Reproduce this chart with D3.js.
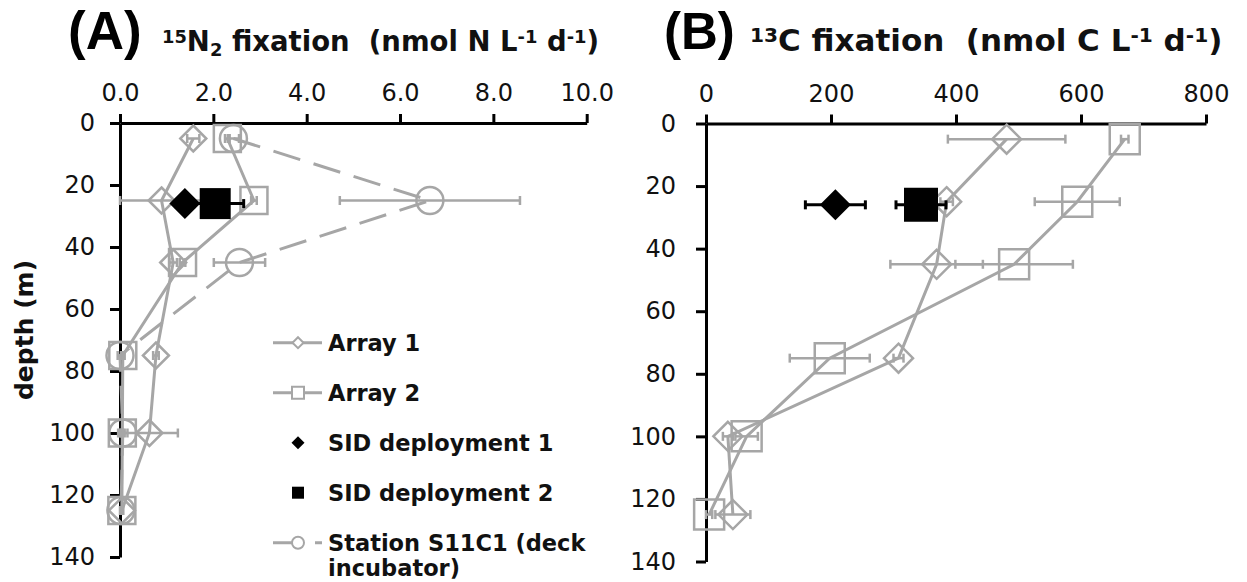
<!DOCTYPE html>
<html><head><meta charset="utf-8">
<script src="https://cdn.jsdelivr.net/npm/d3@7"></script>
<style>body{margin:0;background:#fff} svg{display:block}</style></head>
<body>
<svg id="c" width="1247" height="582"></svg>
<script>
// ---- data ----
const depths = [5, 25, 45, 75, 100, 125];
const sidDepth = [26];
const depthTicks = [0, 20, 40, 60, 80, 100, 120, 140];
const ticksA = [0, 2, 4, 6, 8, 10];
const ticksB = [0, 200, 400, 600, 800];

// Panel A: 15N2 fixation (nmol N L-1 d-1)
const a1N    = [1.57, 0.89, 1.14, 0.77, 0.63, 0.04];
const a1Nerr = [0.13, 0.89, 0.08, 0.06, 0.61, 0.03];
const a2N    = [2.30, 2.87, 1.34, 0.06, 0.05, 0.04];
const a2Nerr = [0.05, 0.06, 0.06, 0.04, 0.05, 0.02];
const stN    = [2.43, 6.64, 2.56, 0.00, 0.06, 0.02];
const stNerr = [0.12, 1.93, 0.55, 0.05, 0.10, 0.02];
const sid1N = [1.39], sid1Nerr = [0.20];
const sid2N = [2.04], sid2Nerr = [0.61];

// Panel B: 13C fixation (nmol C L-1 d-1)
const a1C    = [481, 385, 369, 308, 35, 43];
const a1Cerr = [94, 10, 74, 8, 8, 28];
const a2C    = [670, 594, 493, 198, 65, 5];
const a2Cerr = [6, 68, 94, 64, 18, 5];
const sid1C = [207], sid1Cerr = [48];
const sid2C = [344], sid2Cerr = [40];

const legendLabels = ["Array 1", "Array 2", "SID deployment 1", "SID deployment 2", "Station S11C1 (deck", "incubator)"];

// ---- drawing ----
const GRAY = "#a6a6a6";
const svg = d3.select("#c");

function markerPath(type, cx, cy, s) {
  const p = d3.path();
  if (type === "diamond") {
    p.moveTo(cx, cy - s); p.lineTo(cx + s, cy); p.lineTo(cx, cy + s); p.lineTo(cx - s, cy); p.closePath();
  } else if (type === "square") {
    p.rect(cx - s, cy - s, 2 * s, 2 * s);
  } else {
    p.moveTo(cx + s, cy); p.arc(cx, cy, s, 0, 2 * Math.PI);
  }
  return p.toString();
}

function drawSeries(g, x, y, vals, errs, dep, opt) {
  const pts = vals.map((v, i) => ({v, e: errs[i], d: dep[i]}));
  if (opt.line) {
    g.append("path").datum(pts)
      .attr("d", d3.line().x(p => x(p.v)).y(p => y(p.d)))
      .attr("fill", "none").attr("stroke", GRAY).attr("stroke-width", 3)
      .attr("stroke-dasharray", opt.dash || null);
  }
  const eb = g.append("g").attr("stroke", opt.ecol).attr("stroke-width", opt.ew);
  pts.forEach(p => {
    const y0 = y(p.d);
    eb.append("line").attr("x1", x(p.v - p.e)).attr("x2", x(p.v + p.e)).attr("y1", y0).attr("y2", y0);
    [p.v - p.e, p.v + p.e].forEach(xx => {
      eb.append("line").attr("x1", x(xx)).attr("x2", x(xx)).attr("y1", y0 - 4.5).attr("y2", y0 + 4.5);
    });
  });
  g.append("g").selectAll("path").data(pts).join("path")
    .attr("d", p => markerPath(opt.shape, x(p.v), y(p.d), opt.size))
    .attr("fill", opt.fill).attr("stroke", opt.stroke).attr("stroke-width", opt.sw);
}

function axes(g, x, y, xt, fmt, ypad) {
  const ax = g.append("g").attr("transform", `translate(0,${y(0)})`)
    .call(d3.axisTop(x).tickValues(xt).tickFormat(fmt).tickSize(9).tickSizeOuter(0).tickPadding(13));
  const ay = g.append("g").attr("transform", `translate(${x(0)},0)`)
    .call(d3.axisLeft(y).tickValues(depthTicks).tickFormat(d3.format("d")).tickSize(10).tickSizeOuter(0).tickPadding(ypad));
  [ax, ay].forEach(a => {
    a.selectAll("path, line").attr("stroke", "#000").attr("stroke-width", 3);
    a.selectAll("text").attr("font-family", "DejaVu Sans, Verdana, sans-serif").attr("font-size", 24).attr("fill", "#111");
  });
}

function title(letter, x0, lsize, parts, xt, fs) {
  svg.append("text").attr("x", x0).attr("y", 49)
    .attr("font-family", "Liberation Sans, Arial, sans-serif").attr("font-weight", "bold").attr("font-size", lsize)
    .text(letter);
  const t = svg.append("text").attr("x", xt).attr("y", 51)
    .attr("font-family", "DejaVu Sans, Verdana, sans-serif").attr("font-weight", "bold").attr("font-size", fs)
    .attr("fill", "#111");
  parts.forEach(([s, kind]) => {
    const ts = t.append("tspan").text(s);
    if (kind === "sup") ts.attr("font-size", fs * 0.65).attr("baseline-shift", "45%");
    if (kind === "sub") ts.attr("font-size", fs * 0.65).attr("baseline-shift", "-25%");
  });
}

// Panel A
const xA = d3.scaleLinear().domain([0, 10]).range([120, 586.7]);
const yA = d3.scaleLinear().domain([0, 140]).range([123, 557]);
const gA = svg.append("g");
axes(gA, xA, yA, ticksA, d3.format(".1f"), 15);
drawSeries(gA, xA, yA, a1N, a1Nerr, depths, {line: true, shape: "diamond", size: 13, fill: "none", stroke: GRAY, sw: 2.5, ecol: GRAY, ew: 2.5});
drawSeries(gA, xA, yA, a2N, a2Nerr, depths, {line: true, shape: "square", size: 13.5, fill: "none", stroke: GRAY, sw: 2.5, ecol: GRAY, ew: 2.5});
drawSeries(gA, xA, yA, stN, stNerr, depths, {line: true, dash: "28,14", shape: "circle", size: 13.5, fill: "none", stroke: GRAY, sw: 2.5, ecol: GRAY, ew: 2.5});
drawSeries(gA, xA, yA, sid1N, sid1Nerr, sidDepth, {shape: "diamond", size: 15.5, fill: "#000", stroke: "none", sw: 0, ecol: "#000", ew: 3});
drawSeries(gA, xA, yA, sid2N, sid2Nerr, sidDepth, {shape: "square", size: 15.5, fill: "#000", stroke: "none", sw: 0, ecol: "#000", ew: 3});

// Panel B
const xB = d3.scaleLinear().domain([0, 800]).range([706, 1206]);
const yB = d3.scaleLinear().domain([0, 140]).range([123.5, 561.5]);
const gB = svg.append("g");
axes(gB, xB, yB, ticksB, d3.format("d"), 20);
drawSeries(gB, xB, yB, a1C, a1Cerr, depths, {line: true, shape: "diamond", size: 14.5, fill: "none", stroke: GRAY, sw: 2.5, ecol: GRAY, ew: 2.5});
drawSeries(gB, xB, yB, a2C, a2Cerr, depths, {line: true, shape: "square", size: 15, fill: "none", stroke: GRAY, sw: 2.5, ecol: GRAY, ew: 2.5});
drawSeries(gB, xB, yB, sid1C, sid1Cerr, sidDepth, {shape: "diamond", size: 15.5, fill: "#000", stroke: "none", sw: 0, ecol: "#000", ew: 3});
drawSeries(gB, xB, yB, sid2C, sid2Cerr, sidDepth, {shape: "square", size: 17, fill: "#000", stroke: "none", sw: 0, ecol: "#000", ew: 3});

// titles
title("(A)", 68, 53, [["15", "sup"], ["N", ""], ["2", "sub"], [" fixation\u00a0 (nmol N L", ""], ["-1", "sup"], [" d", ""], ["-1", "sup"], [")", ""]], 162, 27.5);
title("(B)", 664, 51, [["13", "sup"], ["C fixation\u00a0 (nmol C L", ""], ["-1", "sup"], [" d", ""], ["-1", "sup"], [")", ""]], 750, 31);

// y label
svg.append("text").attr("transform", "translate(33,330) rotate(-90)")
  .attr("text-anchor", "middle").attr("font-family", "DejaVu Sans, Verdana, sans-serif")
  .attr("font-weight", "bold").attr("font-size", 25).attr("fill", "#111").text("depth (m)");

// legend
const leg = svg.append("g");
const legRows = [
  {y: 342.7, shape: "diamond", size: 5.5, fill: "#fff", stroke: GRAY, line: true},
  {y: 392.7, shape: "square", size: 6, fill: "#fff", stroke: GRAY, line: true},
  {y: 442.7, shape: "diamond", size: 6.5, fill: "#000", stroke: "none"},
  {y: 492.7, shape: "square", size: 6, fill: "#000", stroke: "none"},
  {y: 542.7, shape: "circle", size: 6, fill: "#fff", stroke: GRAY, line: true, dash: "28,14"}
];
legRows.forEach((r, i) => {
  if (r.line) leg.append("line").attr("x1", 273).attr("x2", 322).attr("y1", r.y).attr("y2", r.y)
    .attr("stroke", GRAY).attr("stroke-width", 3).attr("stroke-dasharray", r.dash || null);
  leg.append("path").attr("d", markerPath(r.shape, 298, r.y, r.size))
    .attr("fill", r.fill).attr("stroke", r.stroke).attr("stroke-width", 2);
  leg.append("text").attr("x", 328).attr("y", r.y + 8)
    .attr("font-family", "DejaVu Sans, Verdana, sans-serif").attr("font-weight", "bold")
    .attr("font-size", 22.5).attr("fill", "#111").text(legendLabels[i]);
});
leg.append("text").attr("x", 328).attr("y", 568.3 + 8)
  .attr("font-family", "DejaVu Sans, Verdana, sans-serif").attr("font-weight", "bold")
  .attr("font-size", 22.5).attr("fill", "#111").text(legendLabels[5]);
</script>
</body></html>
